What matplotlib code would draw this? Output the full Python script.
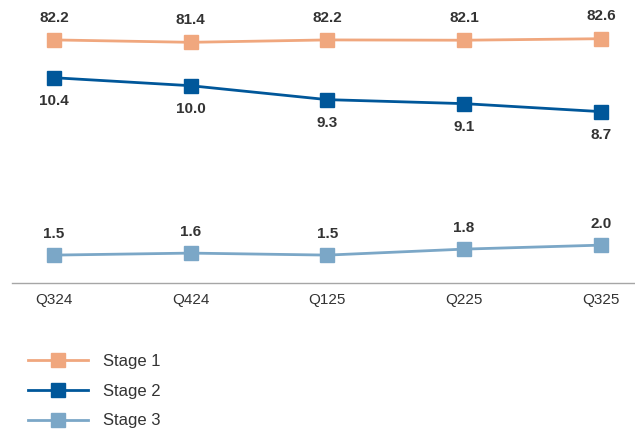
import matplotlib.pyplot as plt
from matplotlib.lines import Line2D

plt.rcParams['font.family'] = ['Liberation Sans', 'DejaVu Sans']

quarters = ['Q324', 'Q424', 'Q125', 'Q225', 'Q325']
stage1 = [82.2, 81.4, 82.2, 82.1, 82.6]
stage2 = [10.4, 10.0, 9.3, 9.1, 8.7]
stage3 = [1.5, 1.6, 1.5, 1.8, 2.0]

c1 = '#f0a77e'
c2 = '#00579a'
c3 = '#7ba7c7'
txt = '#333333'

fig = plt.figure(figsize=(6.35, 4.3), dpi=100)
ax = fig.add_axes([12 / 635, 147 / 430, 623 / 635, 283 / 430])
x = list(range(len(quarters)))

# stage 2 and 3 share the lower scale
ax.plot(x, stage2, color=c2, lw=2, marker='s', ms=10.5)
ax.plot(x, stage3, color=c3, lw=2, marker='s', ms=10.5)
ax.set_ylim(0.1, 14.3)
ax.set_xlim(-0.307, 4.25)

# stage 1 on its own (broken) scale
ax2 = ax.twinx()
ax2.plot(x, stage1, color=c1, lw=2, marker='s', ms=10.5)
ax2.set_ylim(1.2, 95.5)
ax2.axis('off')

for i in x:
    ax2.annotate('%.1f' % stage1[i], (i, stage1[i]), xytext=(0, 16), textcoords='offset points',
                 ha='center', va='center', fontsize=11, fontweight='bold', color=txt)
    ax.annotate('%.1f' % stage2[i], (i, stage2[i]), xytext=(0, -17), textcoords='offset points',
                ha='center', va='center', fontsize=11, fontweight='bold', color=txt)
    ax.annotate('%.1f' % stage3[i], (i, stage3[i]), xytext=(0, 15), textcoords='offset points',
                ha='center', va='center', fontsize=11, fontweight='bold', color=txt)

for s in ['top', 'left', 'right']:
    ax.spines[s].set_visible(False)
ax.spines['bottom'].set_color('#a6a6a6')
ax.spines['bottom'].set_linewidth(1)
ax.set_yticks([])
ax.set_xticks(x)
ax.set_xticklabels(quarters, fontsize=11, color=txt)
ax.tick_params(axis='x', length=0, pad=7)

handles = [Line2D([], [], color=c, lw=2, marker='s', ms=10.5) for c in (c1, c2, c3)]
fig.legend(handles, ['Stage 1', 'Stage 2', 'Stage 3'], loc='upper left',
           bbox_to_anchor=(13 / 635, 1 - 339 / 430), frameon=False, fontsize=12,
           handlelength=3.6, labelspacing=0.88, handletextpad=0.9, labelcolor=txt)

fig.savefig('out.png', dpi=100)
